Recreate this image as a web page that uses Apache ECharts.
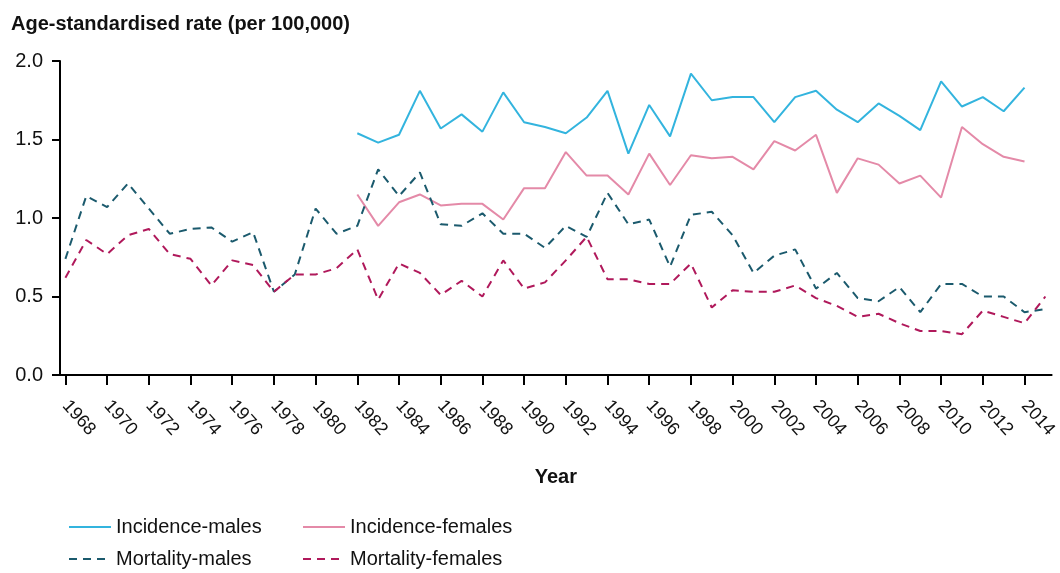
<!DOCTYPE html>
<html>
<head>
<meta charset="utf-8">
<script src="https://cdn.jsdelivr.net/npm/echarts@6/dist/echarts.min.js"></script>
<style>
html,body{margin:0;padding:0;background:#fff;}
#chart{width:1060px;height:573px;}
</style>
</head>
<body>
<div id="chart"></div>
<script>
const years = [1968,1969,1970,1971,1972,1973,1974,1975,1976,1977,1978,1979,1980,1981,1982,1983,1984,1985,1986,1987,1988,1989,1990,1991,1992,1993,1994,1995,1996,1997,1998,1999,2000,2001,2002,2003,2004,2005,2006,2007,2008,2009,2010,2011,2012,2013,2014,2015];
const incidenceYears = [1982,1983,1984,1985,1986,1987,1988,1989,1990,1991,1992,1993,1994,1995,1996,1997,1998,1999,2000,2001,2002,2003,2004,2005,2006,2007,2008,2009,2010,2011,2012,2013,2014];
const incidenceMales = [1.54,1.48,1.53,1.81,1.57,1.66,1.55,1.80,1.61,1.58,1.54,1.64,1.81,1.41,1.72,1.52,1.92,1.75,1.77,1.77,1.61,1.77,1.81,1.69,1.61,1.73,1.65,1.56,1.87,1.71,1.77,1.68,1.83];
const incidenceFemales = [1.15,0.95,1.10,1.15,1.08,1.09,1.09,0.99,1.19,1.19,1.42,1.27,1.27,1.15,1.41,1.21,1.40,1.38,1.39,1.31,1.49,1.43,1.53,1.16,1.38,1.34,1.22,1.27,1.13,1.58,1.47,1.39,1.36];
const mortalityMales = [0.74,1.14,1.07,1.22,1.06,0.90,0.93,0.94,0.85,0.91,0.53,0.64,1.06,0.90,0.95,1.31,1.14,1.29,0.96,0.95,1.03,0.90,0.90,0.81,0.95,0.88,1.16,0.96,0.99,0.69,1.02,1.04,0.89,0.65,0.76,0.80,0.55,0.65,0.49,0.47,0.56,0.40,0.58,0.58,0.50,0.50,0.40,0.42];
const mortalityFemales = [0.62,0.86,0.77,0.89,0.93,0.77,0.74,0.57,0.73,0.70,0.53,0.64,0.64,0.68,0.80,0.48,0.71,0.65,0.51,0.60,0.50,0.73,0.55,0.59,0.73,0.88,0.61,0.61,0.58,0.58,0.71,0.43,0.54,0.53,0.53,0.57,0.49,0.44,0.37,0.39,0.33,0.28,0.28,0.26,0.41,0.37,0.33,0.50];
const yearTicks = [1968,1970,1972,1974,1976,1978,1980,1982,1984,1986,1988,1990,1992,1994,1996,1998,2000,2002,2004,2006,2008,2010,2012,2014];

const pair = (xs, vs) => xs.map((x, i) => [x, vs[i]]);
const FONT = '"Liberation Sans", Arial, sans-serif';
const C = {im:'#33B4DE', if:'#E48AA8', mm:'#1B5A6D', mf:'#B0195B'};

const chart = echarts.init(document.getElementById('chart'), null, {renderer:'canvas'});
const legendText = {fontFamily: FONT, fontSize: 20, color: '#111'};
const mkLegend = (name, left, top) => ({
  data: [name], orient: 'horizontal', left: left, top: top,
  itemWidth: 42, itemHeight: 14, itemTextGap: 23, textStyle: legendText, padding: 0,
  itemStyle: {opacity: 0, borderWidth: 0}
});
chart.setOption({
  animation: false,
  textStyle: {fontFamily: FONT},
  title: {
    text: 'Age-standardised rate (per 100,000)',
    left: 6, top: 9,
    textStyle: {fontFamily: FONT, fontSize: 20, fontWeight: 'bold', color: '#111'}
  },
  legend: [
    mkLegend('Incidence-males', 68, 517),
    mkLegend('Incidence-females', 302, 517),
    mkLegend('Mortality-males', 68, 549),
    mkLegend('Mortality-females', 302, 549)
  ],
  grid: {left: 60, right: 1, top: 61, bottom: 198, containLabel: false},
  xAxis: {
    type: 'value', min: 1967.74, max: 2015.3,
    name: 'Year', nameLocation: 'middle', nameGap: 92,
    nameTextStyle: {fontFamily: FONT, fontSize: 20, fontWeight: 'bold', color: '#111'},
    axisLine: {show: true, onZero: false, lineStyle: {color: '#000', width: 2}},
    axisTick: {show: true, length: 10, lineStyle: {color: '#000', width: 2}, customValues: yearTicks},
    axisLabel: {customValues: yearTicks, rotate: -48, margin: 28, fontSize: 18, color: '#111', fontFamily: FONT,
      formatter: v => String(v)},
    splitLine: {show: false}
  },
  yAxis: {
    type: 'value', min: 0, max: 2, interval: 0.5,
    axisLine: {show: true, lineStyle: {color: '#000', width: 2}},
    axisTick: {show: true, length: 8, lineStyle: {color: '#000', width: 2}},
    axisLabel: {fontSize: 20, color: '#111', margin: 17, fontFamily: FONT, formatter: v => v.toFixed(1)},
    splitLine: {show: false}
  },
  series: [
    {name: 'Incidence-males', type: 'line', data: pair(incidenceYears, incidenceMales), symbol: 'none',
     lineStyle: {color: C.im, width: 2}, itemStyle: {color: C.im}},
    {name: 'Incidence-females', type: 'line', data: pair(incidenceYears, incidenceFemales), symbol: 'none',
     lineStyle: {color: C.if, width: 2}, itemStyle: {color: C.if}},
    {name: 'Mortality-males', type: 'line', data: pair(years, mortalityMales), symbol: 'none',
     lineStyle: {color: C.mm, width: 2, type: [8, 6]}, itemStyle: {color: C.mm}},
    {name: 'Mortality-females', type: 'line', data: pair(years, mortalityFemales), symbol: 'none',
     lineStyle: {color: C.mf, width: 2, type: [8, 6]}, itemStyle: {color: C.mf}}
  ]
});
</script>
</body>
</html>
